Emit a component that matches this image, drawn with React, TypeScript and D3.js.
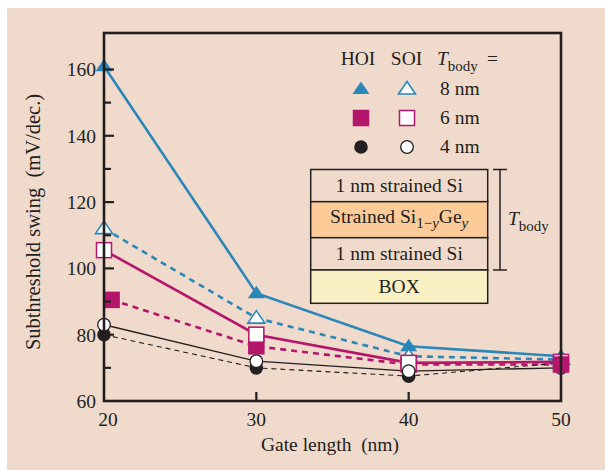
import React from "react";
import * as d3 from "d3";

// Gate length (nm) vs subthreshold swing (mV/dec.)
type Pt = [number, number];

const gateLengths = [20, 30, 40, 50];
const yTicksMajor = [60, 80, 100, 120, 140, 160];
const yTicksMinor = [70, 90, 110, 130, 150];

const hoi8: Pt[] = [[20, 161], [30, 92.5], [40, 76.5], [50, 73.5]];
const soi8: Pt[] = [[20, 112], [30, 85], [40, 73.5], [50, 72.5]];
const hoi6: Pt[] = [[20.5, 90.5], [30, 76.5], [40, 71], [50, 71]];
const soi6: Pt[] = [[20, 105.5], [30, 80], [40, 71.5], [50, 71.8]];
const hoi4: Pt[] = [[20, 80], [30, 70], [40, 67.5], [50, 71.5]];
const soi4: Pt[] = [[20, 83], [30, 72], [40, 69], [50, 70]];

const legendRows = ["8 nm", "6 nm", "4 nm"];
const stackLayers = ["1 nm strained Si", "Strained Si", "1 nm strained Si", "BOX"];

const BLUE = "#2A87B8";
const MAG = "#B3166B";
const INK = "#231F20";
const BG = "#EFDACC";
const FONT = "'Liberation Serif', 'Times New Roman', serif";

type Shape = "tri" | "sq" | "circ";
interface Series {
  key: string;
  data: Pt[];
  color: string;
  shape: Shape;
  filled: boolean;
  width: number;
  dash: string;
}

const series: Series[] = [
  { key: "hoi8", data: hoi8, color: BLUE, shape: "tri", filled: true, width: 2.6, dash: "" },
  { key: "soi8", data: soi8, color: BLUE, shape: "tri", filled: false, width: 2.6, dash: "6,5" },
  { key: "hoi6", data: hoi6, color: MAG, shape: "sq", filled: true, width: 2.6, dash: "6,5" },
  { key: "soi6", data: soi6, color: MAG, shape: "sq", filled: false, width: 2.6, dash: "" },
  { key: "hoi4", data: hoi4, color: INK, shape: "circ", filled: true, width: 1.1, dash: "5,4" },
  { key: "soi4", data: soi4, color: INK, shape: "circ", filled: false, width: 1.3, dash: "" },
];

// markers raised above the rest where they overlap at the last gate length
const frontMarkers: [string, number][] = [["hoi6", 50]];

const x = d3.scaleLinear().domain([20, 50]).range([104, 561]);
const y = d3.scaleLinear().domain([60, 171]).range([401, 33]);

function Marker({ shape, filled, color, cx, cy }: { shape: Shape; filled: boolean; color: string; cx: number; cy: number }) {
  const fill = filled ? color : "#fff";
  if (shape === "tri") {
    const p = d3.path();
    p.moveTo(cx, cy - 7.5);
    p.lineTo(cx + 8.5, cy + 5);
    p.lineTo(cx - 8.5, cy + 5);
    p.closePath();
    return <path d={p.toString()} fill={fill} stroke={color} strokeWidth={filled ? 0 : 1.6} />;
  }
  if (shape === "sq") {
    const s = filled ? 16.5 : 15;
    return <rect x={cx - s / 2} y={cy - s / 2} width={s} height={s} fill={fill} stroke={color} strokeWidth={filled ? 0 : 1.5} />;
  }
  return <circle cx={cx} cy={cy} r={filled ? 6.8 : 6.3} fill={fill} stroke={color} strokeWidth={filled ? 0 : 1.3} />;
}

export default function App() {
  const line = d3.line<Pt>().x((d) => x(d[0])).y((d) => y(d[1]));
  const isFront = (k: string, g: number) => frontMarkers.some(([fk, fg]) => fk === k && fg === g);

  const layerY = [169.5, 201.7, 237.7, 270, 303.3];
  const layerFill = [BG, "#FCCB98", BG, "#F9F0C4"];
  const boxL = 310.7;
  const boxR = 487.7;
  const boxC = (boxL + boxR) / 2;

  const legY = [89, 118, 147];
  const hoiX = 361;
  const soiX = 407;
  const legendMarkers: { shape: Shape; color: string }[] = [
    { shape: "tri", color: BLUE },
    { shape: "sq", color: MAG },
    { shape: "circ", color: INK },
  ];

  return (
    <svg width={605} height={470} style={{ position: "absolute", left: 0, top: 0 }} fontFamily={FONT}>
      <rect x={0} y={0} width={605} height={470} fill="#fff" />
      <rect x={7} y={8} width={598} height={462} fill={BG} />

      {/* series lines */}
      {series.map((s) => (
        <path
          key={s.key}
          d={line(s.data) || ""}
          fill="none"
          stroke={s.color}
          strokeWidth={s.width}
          strokeDasharray={s.dash || undefined}
        />
      ))}

      {/* markers */}
      {series.map((s) =>
        s.data
          .filter((d) => !isFront(s.key, d[0]))
          .map((d, i) => (
            <Marker key={s.key + i} shape={s.shape} filled={s.filled} color={s.color} cx={x(d[0])} cy={y(d[1])} />
          ))
      )}
      {series.map((s) =>
        s.data
          .filter((d) => isFront(s.key, d[0]))
          .map((d, i) => (
            <Marker key={s.key + "f" + i} shape={s.shape} filled={s.filled} color={s.color} cx={x(d[0])} cy={y(d[1])} />
          ))
      )}

      {/* frame */}
      <rect x={104} y={33} width={457} height={368} fill="none" stroke={INK} strokeWidth={2.6} />

      {/* y ticks */}
      {yTicksMajor.map((t) => (
        <g key={"ym" + t}>
          {t > 60 && <line x1={104} x2={114} y1={y(t)} y2={y(t)} stroke={INK} strokeWidth={2.2} />}
          <text x={96} y={y(t) + 7} textAnchor="end" fontSize={19.5} fill={INK}>
            {t}
          </text>
        </g>
      ))}
      {yTicksMinor.map((t) => (
        <line key={"yn" + t} x1={104} x2={111} y1={y(t)} y2={y(t)} stroke={INK} strokeWidth={2.2} />
      ))}

      {/* x ticks */}
      {gateLengths.map((g) => (
        <g key={"x" + g}>
          {g > 20 && g < 50 && <line x1={x(g)} x2={x(g)} y1={401} y2={392} stroke={INK} strokeWidth={2.2} />}
          <text x={x(g) + (g === 20 ? 4 : 0)} y={426} textAnchor="middle" fontSize={19.5} fill={INK}>
            {g}
          </text>
        </g>
      ))}

      {/* axis titles */}
      <text x={330} y={451} textAnchor="middle" fontSize={19.5} fill={INK} style={{ whiteSpace: "pre" }}>
        {"Gate length  (nm)"}
      </text>
      <text
        transform="translate(40,222) rotate(-90)"
        textAnchor="middle"
        fontSize={20.5}
        fill={INK}
        style={{ whiteSpace: "pre" }}
      >
        {"Subthreshold swing  (mV/dec.)"}
      </text>

      {/* legend */}
      <text x={358} y={65} textAnchor="middle" fontSize={19.5} fill={INK}>HOI</text>
      <text x={406.5} y={65} textAnchor="middle" fontSize={19.5} fill={INK}>SOI</text>
      <text x={437} y={65} fontSize={19.5} fill={INK}>
        <tspan fontStyle="italic">T</tspan>
        <tspan fontSize={15} dy={6}>body</tspan>
      </text>
      <text x={487} y={65} fontSize={19.5} fill={INK}>=</text>
      {legendRows.map((r, i) => (
        <g key={r}>
          <Marker shape={legendMarkers[i].shape} filled={true} color={legendMarkers[i].color} cx={hoiX} cy={legY[i]} />
          <Marker shape={legendMarkers[i].shape} filled={false} color={legendMarkers[i].color} cx={soiX} cy={legY[i]} />
          <text x={440} y={legY[i] + 6} fontSize={19.5} fill={INK}>
            {r}
          </text>
        </g>
      ))}

      {/* layer stack */}
      {stackLayers.map((l, i) => (
        <rect
          key={"ly" + i}
          x={boxL}
          y={layerY[i]}
          width={boxR - boxL}
          height={layerY[i + 1] - layerY[i]}
          fill={layerFill[i]}
          stroke={INK}
          strokeWidth={1.5}
        />
      ))}
      {stackLayers.map((l, i) =>
        i === 1 ? (
          <text key={"lt" + i} x={boxC} y={(layerY[i] + layerY[i + 1]) / 2 + 3.5} textAnchor="middle" fontSize={19.5} fill={INK}>
            {l}
            <tspan fontSize={15} dy={5}>1</tspan>
            <tspan fontSize={15}>−</tspan>
            <tspan fontSize={15} fontStyle="italic">y</tspan>
            <tspan dy={-5}>Ge</tspan>
            <tspan fontSize={15} fontStyle="italic" dy={5}>y</tspan>
          </text>
        ) : (
          <text key={"lt" + i} x={boxC} y={(layerY[i] + layerY[i + 1]) / 2 + 6} textAnchor="middle" fontSize={19.5} fill={INK}>
            {l}
          </text>
        )
      )}

      {/* T_body bracket */}
      <line x1={500} x2={500} y1={layerY[0]} y2={layerY[3]} stroke={INK} strokeWidth={1.5} />
      <line x1={493} x2={507} y1={layerY[0]} y2={layerY[0]} stroke={INK} strokeWidth={1.5} />
      <line x1={493} x2={507} y1={layerY[3]} y2={layerY[3]} stroke={INK} strokeWidth={1.5} />
      <text x={508} y={225} fontSize={19.5} fill={INK}>
        <tspan fontStyle="italic">T</tspan>
        <tspan fontSize={15} dy={6}>body</tspan>
      </text>
    </svg>
  );
}
